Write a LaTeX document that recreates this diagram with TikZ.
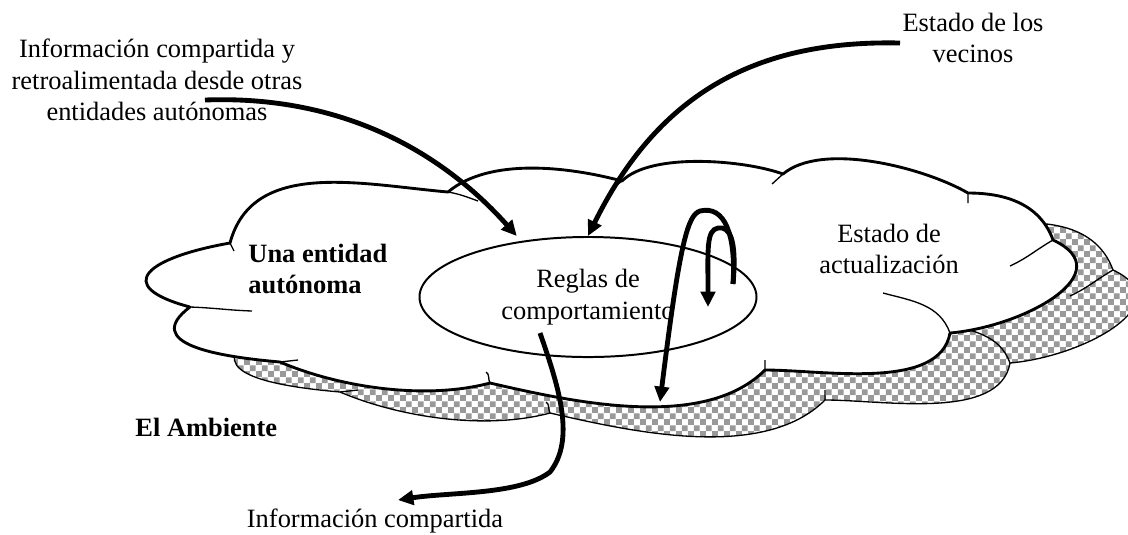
\documentclass[tikz,border=0pt]{standalone}
\usepackage{fontspec}
\setmainfont{Liberation Serif}
\usepackage{tikz}
\usetikzlibrary{shapes.geometric,arrows.meta,patterns.meta}

\definecolor{checkgray}{HTML}{999999}

\tikzdeclarepattern{
  name=smallcheck,
  type=uncolored,
  bounding box={(0pt,0pt) and (5.6pt,5.6pt)},
  tile size={(5.6pt,5.6pt)},
  code={
    \fill (0pt,0pt) rectangle (2.85pt,2.85pt);
    \fill (2.8pt,2.8pt) rectangle (5.6pt,5.6pt);
  }
}

\newcommand{\cloudpath}{(230,243) to[out=75,in=175] (448,192)
  to[out=40,in=165,looseness=0.8] (622,181)
  to[out=45,in=160,looseness=0.65] (783,174)
  to[out=40,in=150,looseness=0.7] (968,193)
  to[out=0,in=110] (1053,240)
  to[out=-25,in=5,looseness=1.4] (950,333)
  to[out=-100,in=0,looseness=0.8] (765,370)
  to[out=-135,in=-13,looseness=0.8] (490,383)
  to[out=-165,in=-23,looseness=0.8] (280,362)
  to[out=-185,in=-143,looseness=1.5] (190,307)
  to[out=-195,in=-170,looseness=2.8] (230,243) -- cycle}

\newcommand{\cloudticks}{(190,307) to[out=-2,in=-182] (252,311)
  (280,362) -- (298,360)
  (490,383) to[out=120,in=-30] (486,372)
  (448,192) to[out=-10,in=-200] (478,201)
  (622,181) -- (613,188)
  (783,174) -- (772,184)
  (968,193) -- (968,203)
  (1053,240) to[out=-150,in=25] (1010,266)
  (950,333) to[out=110,in=-15] (883,293)
  (765,370) -- (765,360)
  (230,243) -- (234,251)}

\begin{document}
\begin{tikzpicture}[x=0.454pt,y=-0.454pt,
        every node/.style={font=\fontsize{12}{14.3}\selectfont, inner sep=0pt},
        lbl/.style={align=center},
        boldlbl/.style={align=left, font=\fontsize{12}{14.3}\selectfont\bfseries},
        rulesnode/.style={ellipse, draw, line width=0.9pt, fill=white, align=center,
                          minimum width=153pt, minimum height=54.5pt},
        cloudline/.style={line width=1.3pt, line join=round},
        tickline/.style={line width=0.6pt},
        shadowline/.style={line width=0.6pt, pattern=smallcheck, pattern color=checkgray},
        flow/.style={line width=2.2pt, -{Triangle[length=7pt,width=6.5pt]}}]
    \useasboundingbox (0,0) rectangle (1128,534);

    \begin{scope}[shift={(60,30)}]
        \fill[white] \cloudpath;
        \draw[shadowline] \cloudpath;
        \draw[tickline] \cloudticks;
    \end{scope}
    \draw[cloudline, fill=white] \cloudpath;
    \draw[tickline] \cloudticks;

    \node[rulesnode] (rules) at (588,297) {Reglas de\\comportamiento};
    \node[lbl] (infoin) at (157,80) {Información compartida y\\retroalimentada desde otras\\entidades autónomas};
    \node[lbl] (vecinos) at (973,38) {Estado de los\\vecinos};
    \node[lbl] (actual) at (889,249) {Estado de\\actualización};
    \node[boldlbl, anchor=west] (entidad) at (248,269) {Una entidad\\autónoma};
    \node[boldlbl, anchor=west] (ambiente) at (135,427) {El Ambiente};
    \node[lbl] (infoout) at (375,521) {Información compartida};

    \coordinate (inA) at (205,100);
    \coordinate (vecA) at (900,43);
    \coordinate (outA) at (540,333);
    \coordinate (outB) at (398,500);
    \coordinate (loopA) at (733,284);
    \coordinate (loopB) at (660,402);
    \coordinate (loopC) at (708,307);

    \draw[flow, shorten >=3pt] (inA) .. controls (340,95) and (440,150) .. (rules.140);
    \draw[flow] (vecA) .. controls (760,40) and (660,90) .. (rules.north);
    \draw[flow] (outA) .. controls (560,390) and (575,440) .. (550,472) .. controls (520,495) and (450,492) .. (outB);
    \draw[flow] (loopA) .. controls (736,235) and (725,205) .. (700,211) .. controls (688,215) and (680,240) .. (loopB);
    \draw[flow] (loopA) .. controls (737,240) and (730,226) .. (718,228) .. controls (706,230) and (708,250) .. (loopC);
\end{tikzpicture}
\end{document}
